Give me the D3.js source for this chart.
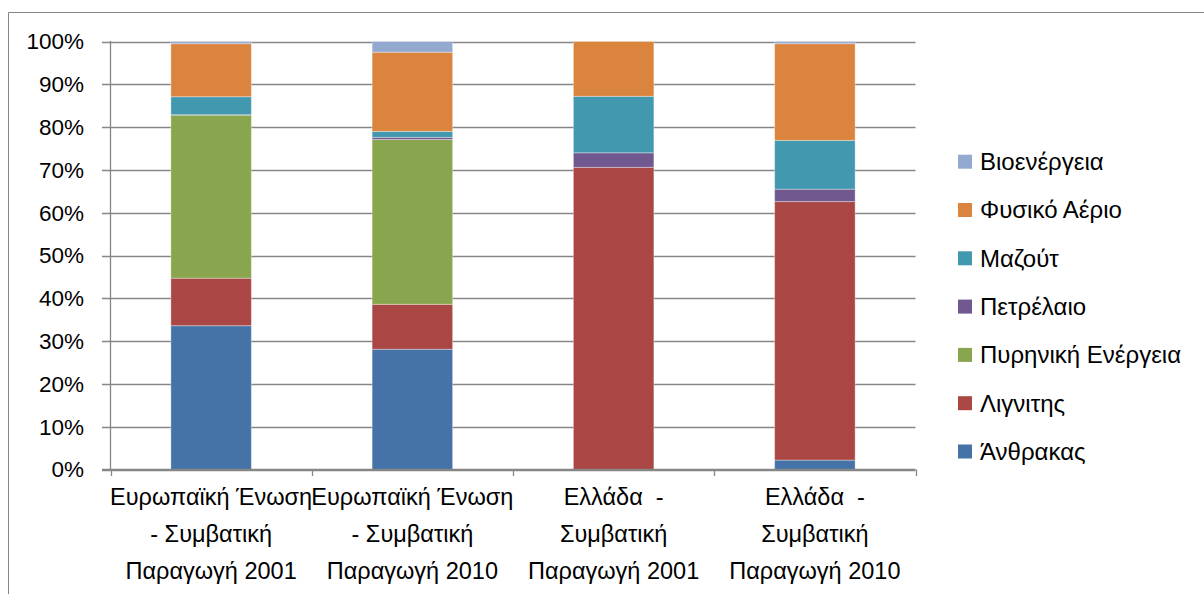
<!DOCTYPE html>
<html>
<head>
<meta charset="utf-8">
<script src="https://cdn.jsdelivr.net/npm/d3@7"></script>
<style>
  html, body { margin: 0; padding: 0; background: #fff; }
  svg { display: block; }
  text { font-family: "Liberation Sans", Arial, sans-serif; fill: #000; white-space: pre; }
</style>
</head>
<body>
<svg id="chart" width="1204" height="594"></svg>
<script>
// Category keys and their wrapped label lines
const categories = ["EU2001", "EU2010", "GR2001", "GR2010"];
const categoryLines = [
  ["Ευρωπαϊκή Ένωση", "- Συμβατική", "Παραγωγή 2001"],
  ["Ευρωπαϊκή Ένωση", "- Συμβατική", "Παραγωγή 2010"],
  ["Ελλάδα  -", "Συμβατική", "Παραγωγή 2001"],
  ["Ελλάδα  -", "Συμβατική", "Παραγωγή 2010"]
];

// Share of conventional generation by source, percent (stacked bottom to top)
const seriesNames = [
  "Άνθρακας", "Λιγνιτης", "Πυρηνική Ενέργεια", "Πετρέλαιο",
  "Μαζούτ", "Φυσικό Αέριο", "Βιοενέργεια"
];
const anthrakas   = [33.6, 28.1,  0.0,  2.2];
const lignitis    = [11.1, 10.5, 70.6, 60.4];
const pyrinikh    = [38.1, 38.5,  0.0,  0.0];
const petrelaio   = [ 0.1,  0.5,  3.4,  2.9];
const mazout      = [ 4.2,  1.4, 13.2, 11.4];
const fysikoAerio = [12.4, 18.5, 12.8, 22.6];
const bioenergeia = [ 0.5,  2.5,  0.0,  0.5];
const seriesValues = [anthrakas, lignitis, pyrinikh, petrelaio, mazout, fysikoAerio, bioenergeia];

const seriesColors = ["#4572A7", "#AA4643", "#89A54E", "#71588F", "#4198AF", "#DB843D", "#93A9CF"];

const yTicks = [0, 10, 20, 30, 40, 50, 60, 70, 80, 90, 100];

// Table built from the arrays above
const rows = categories.map((c, i) => {
  const r = { category: c };
  seriesNames.forEach((s, j) => { r[s] = seriesValues[j][i]; });
  return r;
});

const svg = d3.select("#chart");
const gridColor = "#868686";

// Outer chart frame
svg.append("path")
  .attr("d", "M8.5,600 L8.5,12.5 L1210,12.5")
  .attr("fill", "none").attr("stroke", gridColor).attr("stroke-width", 1);

const x = d3.scaleBand()
  .domain(categories)
  .range([110.5, 915.5])
  .paddingInner(0.6)
  .paddingOuter(0.3);

const y = d3.scaleLinear().domain([0, 100]).range([469.5, 41.5]);

// Horizontal gridlines with y tick stubs
svg.append("g")
  .selectAll("line")
  .data(yTicks)
  .join("line")
  .attr("x1", 102).attr("x2", 915.5)
  .attr("y1", d => Math.round(y(d)) + 0.5).attr("y2", d => Math.round(y(d)) + 0.5)
  .attr("stroke", gridColor).attr("stroke-width", 1.3);

// Y axis labels
svg.append("g")
  .selectAll("text")
  .data(yTicks)
  .join("text")
  .attr("x", 84)
  .attr("y", d => y(d))
  .attr("dy", "0.35em")
  .attr("text-anchor", "end")
  .attr("font-size", 22.5)
  .text(d => d + "%");

// Stacked bars
const stack = d3.stack().keys(seriesNames);
const layers = stack(rows);

svg.append("g")
  .selectAll("g")
  .data(layers)
  .join("g")
  .attr("fill", (d, i) => seriesColors[i])
  .selectAll("rect")
  .data(d => d.filter(p => p[1] - p[0] > 0))
  .join("rect")
  .attr("x", d => x(d.data.category))
  .attr("width", x.bandwidth())
  .attr("y", d => y(d[1]))
  .attr("height", d => y(d[0]) - y(d[1]))
  .attr("stroke", "rgba(255,255,255,0.35)")
  .attr("stroke-width", 1);

// Axis lines
svg.append("line")
  .attr("x1", 110.5).attr("x2", 110.5).attr("y1", 41).attr("y2", 470)
  .attr("stroke", gridColor).attr("stroke-width", 1.3);
svg.append("line")
  .attr("x1", 102).attr("x2", 915.5).attr("y1", 469.5).attr("y2", 469.5)
  .attr("stroke", gridColor).attr("stroke-width", 1.3);

// X tick marks at category boundaries
const bounds = [x.range()[0]].concat(categories.map(c => x(c) + x.bandwidth() / 2 + x.step() / 2));
svg.append("g")
  .selectAll("line")
  .data(bounds)
  .join("line")
  .attr("x1", d => Math.round(d) + 0.5).attr("x2", d => Math.round(d) + 0.5)
  .attr("y1", 469.5).attr("y2", 476)
  .attr("stroke", gridColor).attr("stroke-width", 1.3);

// X category labels
const xl = svg.append("g")
  .selectAll("text")
  .data(categories)
  .join("text")
  .attr("text-anchor", "middle")
  .attr("font-size", 23.5)
  .attr("x", d => x(d) + x.bandwidth() / 2);
xl.selectAll("tspan")
  .data((d, i) => categoryLines[i])
  .join("tspan")
  .attr("x", function () { return this.parentNode.getAttribute("x"); })
  .attr("y", (d, i) => 505 + i * 37)
  .text(d => d);

// Legend (top entry is the last stacked series)
const legendItems = seriesNames.map((s, i) => ({ name: s, color: seriesColors[i] })).reverse();
const lg = svg.append("g")
  .selectAll("g")
  .data(legendItems)
  .join("g")
  .attr("transform", (d, i) => `translate(958, ${161.7 + i * 48.3})`);
lg.append("rect")
  .attr("x", 0).attr("y", -7).attr("width", 14).attr("height", 14)
  .attr("fill", d => d.color);
lg.append("text")
  .attr("x", 22).attr("y", 0).attr("dy", "0.35em")
  .attr("font-size", 24)
  .text(d => d.name);
</script>
</body>
</html>
